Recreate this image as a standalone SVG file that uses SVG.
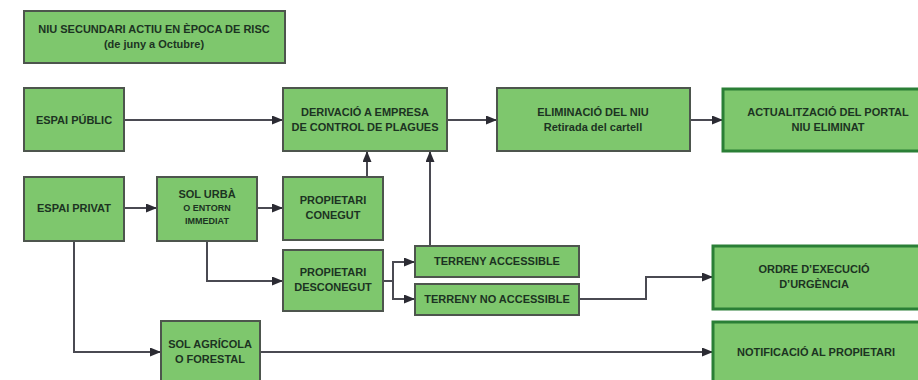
<svg xmlns="http://www.w3.org/2000/svg" width="918" height="380" viewBox="0 0 918 380">
<defs>
<marker id="ah" viewBox="0 0 11 9" refX="11" refY="4.5" markerWidth="11" markerHeight="9" markerUnits="userSpaceOnUse" orient="auto">
<path d="M0,0 L11,4.5 L0,9 z" fill="#2b2b33"/>
</marker>
<style>
.b{fill:#7ec76d;stroke:#4d554d;stroke-width:2}
.g{fill:#7ec76d;stroke:#2a7f36;stroke-width:3}
.t{font-family:"Liberation Sans",Arial,sans-serif;font-weight:bold;font-size:11px;fill:#1c3322;text-anchor:middle}
.s{font-size:9px}
.c{fill:none;stroke:#4a4a52;stroke-width:2;marker-end:url(#ah)}
.n{fill:none;stroke:#4a4a52;stroke-width:2}
</style>
</defs>
<rect width="918" height="380" fill="#ffffff"/>
<g id="connectors">
<path class="c" d="M124,120 H283"/>
<path class="c" d="M124,208 H157"/>
<path class="c" d="M257,208 H283"/>
<path class="c" d="M367,177 V151"/>
<path class="c" d="M430,246 V151"/>
<path class="c" d="M447,120 H497"/>
<path class="c" d="M690,120 H723"/>
<path class="c" d="M207,241 V281 H283"/>
<path class="n" d="M383,281 H393"/>
<path class="c" d="M393,281 V262 H415"/>
<path class="c" d="M393,281 V299 H415"/>
<path class="c" d="M579,299 H646 V277 H713"/>
<path class="c" d="M74,241 V352 H161"/>
<path class="c" d="M260,352 H713"/>
</g>
<g id="n-niu"><rect class="b" x="24" y="11" width="261" height="52"/><text class="t" x="154" y="33">NIU SECUNDARI ACTIU EN ÈPOCA DE RISC</text><text class="t" x="154" y="48">(de juny a Octubre)</text></g>
<g id="n-public"><rect class="b" x="24" y="88" width="100" height="63"/><text class="t" x="74" y="124">ESPAI PÚBLIC</text></g>
<g id="n-privat"><rect class="b" x="24" y="177" width="100" height="64"/><text class="t" x="74" y="212">ESPAI PRIVAT</text></g>
<g id="n-urba"><rect class="b" x="157" y="177" width="100" height="64"/><text class="t" x="207" y="198">SOL URBÀ</text><text class="t s" x="207" y="211">O ENTORN</text><text class="t s" x="207" y="224">IMMEDIAT</text></g>
<g id="n-derivacio"><rect class="b" x="283" y="88" width="164" height="63"/><text class="t" x="365" y="116">DERIVACIÓ A EMPRESA</text><text class="t" x="365" y="131">DE CONTROL DE PLAGUES</text></g>
<g id="n-conegut"><rect class="b" x="283" y="177" width="100" height="63"/><text class="t" x="333" y="204">PROPIETARI</text><text class="t" x="333" y="219">CONEGUT</text></g>
<g id="n-desconegut"><rect class="b" x="283" y="250" width="100" height="61"/><text class="t" x="333" y="276">PROPIETARI</text><text class="t" x="333" y="291">DESCONEGUT</text></g>
<g id="n-accessible"><rect class="b" x="415" y="246" width="164" height="31"/><text class="t" x="497" y="265">TERRENY ACCESSIBLE</text></g>
<g id="n-noaccessible"><rect class="b" x="415" y="284" width="164" height="31"/><text class="t" x="497" y="303">TERRENY NO ACCESSIBLE</text></g>
<g id="n-agricola"><rect class="b" x="161" y="321" width="99" height="64"/><text class="t" x="210" y="348">SOL AGRÍCOLA</text><text class="t" x="210" y="363">O FORESTAL</text></g>
<g id="n-eliminacio"><rect class="b" x="497" y="88" width="193" height="63"/><text class="t" x="593" y="116">ELIMINACIÓ DEL NIU</text><text class="t" x="593" y="131">Retirada del cartell</text></g>
<g id="n-actualitzacio"><rect class="g" x="723" y="89" width="200" height="62"/><text class="t" x="828" y="116">ACTUALITZACIÓ DEL PORTAL</text><text class="t" x="828" y="131">NIU ELIMINAT</text></g>
<g id="n-ordre"><rect class="g" x="713" y="246" width="210" height="63"/><text class="t" x="814" y="273">ORDRE D’EXECUCIÓ</text><text class="t" x="814" y="288">D’URGÈNCIA</text></g>
<g id="n-notificacio"><rect class="g" x="713" y="322" width="210" height="64"/><text class="t" x="816" y="356">NOTIFICACIÓ AL PROPIETARI</text></g>
</svg>
